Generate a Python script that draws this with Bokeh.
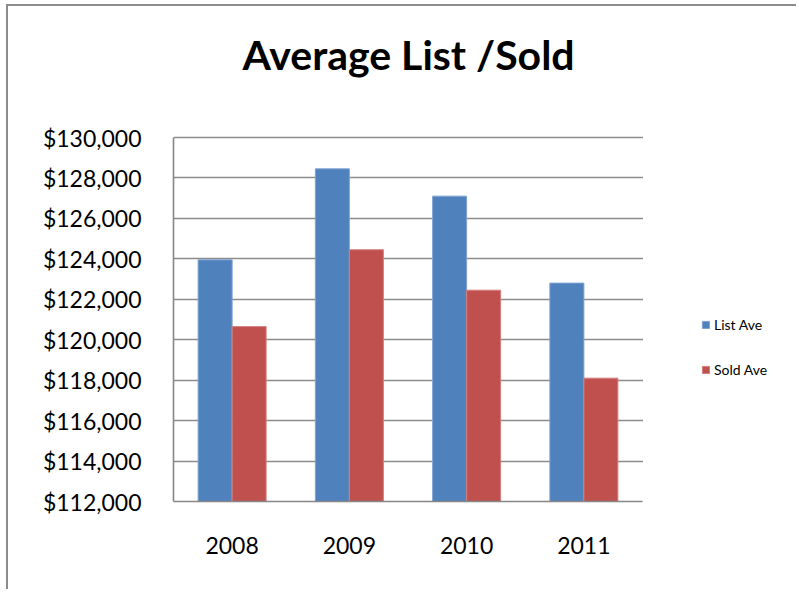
from bokeh.plotting import figure
from bokeh.models import (ColumnDataSource, FixedTicker, NumeralTickFormatter,
                          Legend, LegendItem, Range1d, BoxAnnotation)
from bokeh.embed import file_html
from bokeh.resources import INLINE

# ---- data ----
years = ["2008", "2009", "2010", "2011"]
list_ave = [123950, 128450, 127100, 122800]
sold_ave = [120650, 124450, 122450, 118100]
y_ticks = [112000, 114000, 116000, 118000, 120000, 122000, 124000, 126000, 128000, 130000]
series_names = ["List Ave", "Sold Ave"]
colors = ["#4F81BD", "#C0504D"]
edge_colors = ["#7FA3D3", "#D4807E"]
title_text = "Average List /Sold"

FONT = "Lato"
n = len(years)
centers = [i + 0.5 for i in range(n)]
w = 0.29

src = ColumnDataSource(dict(
    x_list=[c - w / 2 for c in centers],
    x_sold=[c + w / 2 for c in centers],
    list_ave=list_ave, sold_ave=sold_ave))

# layout (px)
W, H = 790, 585
BL, BR, BT, BB = 165, 0, 91, 90
plot_w = 469   # width of the category area
grid_h = 364   # height of the gridded value area
frame_h = H - BT - BB
y_end = y_ticks[0] + (y_ticks[-1] - y_ticks[0]) * frame_h / grid_h

p = figure(x_range=Range1d(0, n * (W - BL - BR) / plot_w),
           y_range=Range1d(y_ticks[0], y_end),
           width=W, height=H, output_backend="svg", toolbar_location=None,
           title=title_text,
           min_border_left=BL, min_border_right=BR, min_border_top=BT, min_border_bottom=BB)
p.styles = {"margin-left": "6px", "margin-top": "4px",
            "border-left": "2px solid #8C8C8C", "border-top": "2px solid #8C8C8C"}

p.outline_line_color = None
p.background_fill_color = "white"
p.border_fill_color = "white"

p.title.text_font = FONT
p.title.text_font_style = "bold"
p.title.text_font_size = "41px"
p.title.align = "left"
p.title.offset = 69
p.title.text_color = "black"
p.title.standoff = 38

r1 = p.vbar(x="x_list", top="list_ave", bottom=y_ticks[0], width=w, source=src,
            fill_color=colors[0], line_color=edge_colors[0], line_width=1)
r2 = p.vbar(x="x_sold", top="sold_ave", bottom=y_ticks[0], width=w, source=src,
            fill_color=colors[1], line_color=edge_colors[1], line_width=1)

p.xgrid.grid_line_color = None
p.ygrid.ticker = FixedTicker(ticks=y_ticks)
p.ygrid.grid_line_color = "#8C8C8C"
p.ygrid.grid_line_width = 1.6

# white mask to stop gridlines at the end of the category area
p.add_layout(BoxAnnotation(left=n + 0.004, fill_color="white", fill_alpha=1.0,
                           line_color=None, level="underlay"))

p.yaxis.ticker = FixedTicker(ticks=y_ticks)
p.yaxis.formatter = NumeralTickFormatter(format="$0,0")
p.yaxis.bounds = (y_ticks[0], y_ticks[-1])
p.xaxis.ticker = FixedTicker(ticks=centers)
p.xaxis.major_label_overrides = {c: y for c, y in zip(centers, years)}
p.xaxis.bounds = (0, n)
for ax in (p.xaxis[0], p.yaxis[0]):
    ax.axis_line_color = "#868686"
    ax.axis_line_width = 1.6
    ax.major_tick_line_color = None
    ax.minor_tick_line_color = None
    ax.major_tick_in = 0
    ax.major_tick_out = 0
    ax.minor_tick_in = 0
    ax.minor_tick_out = 0
    ax.major_label_text_font = FONT
    ax.major_label_text_font_size = "23px"
    ax.major_label_text_color = "black"
p.yaxis.major_label_standoff = 32
p.xaxis.major_label_standoff = 35

legend = Legend(items=[LegendItem(label=series_names[0], renderers=[r1]),
                       LegendItem(label=series_names[1], renderers=[r2])],
                location=(528, 122))
legend.border_line_color = None
legend.background_fill_alpha = 0
legend.padding = 0
legend.margin = 0
legend.glyph_width = 9
legend.glyph_height = 9
legend.label_height = 20
legend.spacing = 25
legend.label_standoff = 4
legend.label_text_font = FONT
legend.label_text_font_size = "14px"
legend.label_text_color = "black"
p.add_layout(legend)

open("out.html", "w").write(file_html(p, INLINE))
